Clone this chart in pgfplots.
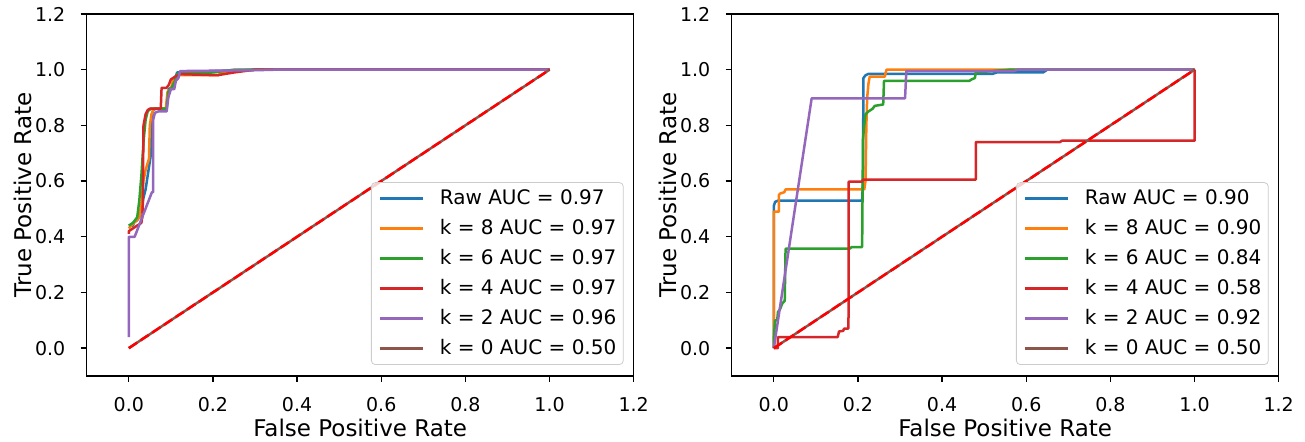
\documentclass[border=0pt]{standalone}
\usepackage{fontspec}
\setmainfont{DejaVu Sans}
\usepackage{pgfplots}
\pgfplotsset{compat=1.18}

\definecolor{c0}{HTML}{1F77B4}
\definecolor{c1}{HTML}{FF7F0E}
\definecolor{c2}{HTML}{2CA02C}
\definecolor{c3}{HTML}{D62728}
\definecolor{c4}{HTML}{9467BD}
\definecolor{c5}{HTML}{8C564B}

\pgfplotsset{
  rocax/.style={
    scale only axis, width=273.5pt, height=181pt,
    xmin=-0.1, xmax=1.2, ymin=-0.1, ymax=1.2,
    xtick={0,0.2,0.4,0.6,0.8,1.0,1.2},
    ytick={0,0.2,0.4,0.6,0.8,1.0,1.2},
    xticklabels={0.0,0.2,0.4,0.6,0.8,1.0,1.2},
    yticklabels={0.0,0.2,0.4,0.6,0.8,1.0,1.2},
    tick align=outside, xtick pos=left, ytick pos=left,
    major tick length=3pt,
    every tick/.style={black, line width=0.7pt},
    axis line style={line width=0.7pt},
    tick label style={font=\fontsize{9.5}{11}\selectfont},
    xticklabel style={anchor=base, inner sep=0pt, yshift=-15pt},
    yticklabel style={anchor=east, inner sep=0pt, xshift=-7.5pt},
    xlabel={False Positive Rate}, ylabel={True Positive Rate},
    label style={font=\fontsize{11.5}{13}\selectfont, inner sep=0pt},
    xlabel style={at={(axis description cs:0.5,-0.1685)}, anchor=base},
    ylabel style={at={(axis description cs:-0.1007,0.5)}, anchor=base},
    legend cell align=left,
    legend image code/.code={\draw[#1] (0pt,0pt) -- (21.5pt,0pt);},
    legend style={at={(1,0)}, anchor=south east, xshift=-5pt, yshift=5.5pt,
      draw=black!20, fill=white, fill opacity=0.8, text opacity=1,
      rounded corners=2pt, inner xsep=3.5pt, inner ysep=3.25pt,
      row sep=5.5pt, font=\fontsize{10}{12}\selectfont,
      nodes={inner sep=0pt, text height=7.5pt, text depth=2pt, anchor=west},
      /tikz/every odd column/.append style={column sep=8pt}},
    every axis plot/.append style={line width=1.25pt, line join=round, no marks},
  },
  diag/.style={red, dash pattern=on 5pt off 2pt, line width=1.25pt},
}

\begin{document}
\begin{tikzpicture}
\path[use as bounding box] (0,0) rectangle (652.5pt,221pt);

% left panel
\begin{axis}[rocax, at={(43.35pt,33pt)}, anchor=south west]
\addplot[c0] coordinates {(0,0.44) (0.01,0.44) (0.012,0.45) (0.02,0.46) (0.025,0.47) (0.03,0.50) (0.035,0.54) (0.04,0.57) (0.045,0.62) (0.05,0.67) (0.053,0.70) (0.055,0.84) (0.058,0.855) (0.065,0.86) (0.088,0.86) (0.09,0.87) (0.095,0.93) (0.105,0.94) (0.11,0.97) (0.115,0.99) (0.2,0.995) (0.3,1.0) (1,1)};
\addlegendentry{Raw AUC = 0.97}
\addplot[c1] coordinates {(0,0.43) (0.012,0.45) (0.02,0.46) (0.025,0.47) (0.03,0.52) (0.035,0.60) (0.04,0.64) (0.048,0.68) (0.05,0.80) (0.054,0.84) (0.06,0.86) (0.088,0.86) (0.092,0.92) (0.1,0.93) (0.105,0.96) (0.115,0.98) (0.213,0.98) (0.22,0.99) (0.3,1) (1,1)};
\addlegendentry{k = 8 AUC = 0.97}
\addplot[c2] coordinates {(0,0.44) (0.01,0.45) (0.02,0.47) (0.025,0.53) (0.03,0.62) (0.035,0.74) (0.04,0.82) (0.045,0.85) (0.052,0.86) (0.09,0.86) (0.094,0.92) (0.1,0.93) (0.11,0.96) (0.115,0.985) (0.2,0.99) (0.25,1) (1,1)};
\addlegendentry{k = 6 AUC = 0.97}
\addplot[c3] coordinates {(0,0.41) (0,0.42) (0.01,0.43) (0.02,0.44) (0.03,0.45) (0.033,0.48) (0.035,0.80) (0.04,0.84) (0.045,0.855) (0.05,0.86) (0.076,0.86) (0.078,0.935) (0.09,0.935) (0.095,0.945) (0.1,0.965) (0.11,0.975) (0.122,0.984) (0.21,0.98) (0.25,0.99) (0.3,1) (1,1)};
\addlegendentry{k = 4 AUC = 0.97}
\addplot[c4] coordinates {(0,0.04) (0,0.40) (0.014,0.40) (0.055,0.56) (0.058,0.56) (0.058,0.82) (0.062,0.845) (0.07,0.85) (0.09,0.85) (0.094,0.90) (0.1,0.93) (0.108,0.93) (0.112,0.96) (0.118,0.97) (0.122,0.995) (0.3,0.998) (0.35,1) (1,1)};
\addlegendentry{k = 2 AUC = 0.96}
\addplot[c5] coordinates {(0,0) (1,1)};
\addlegendentry{k = 0 AUC = 0.50}
\addplot[diag, forget plot] coordinates {(0,0) (1,1)};
\end{axis}

% right panel
\begin{axis}[rocax, at={(365.85pt,33pt)}, anchor=south west]
\addplot[c0] coordinates {(0,0) (0,0.51) (0.003,0.525) (0.01,0.53) (0.21,0.53) (0.212,0.60) (0.213,0.97) (0.218,0.98) (0.225,0.985) (0.52,0.985) (0.53,0.99) (0.64,0.99) (0.65,1) (1,1)};
\addlegendentry{Raw AUC = 0.90}
\addplot[c1] coordinates {(0,0) (0,0.49) (0.012,0.49) (0.012,0.55) (0.015,0.555) (0.025,0.56) (0.028,0.57) (0.215,0.57) (0.218,0.60) (0.22,0.80) (0.222,0.90) (0.225,0.95) (0.228,0.975) (0.264,0.975) (0.266,0.99) (0.268,1) (1,1)};
\addlegendentry{k = 8 AUC = 0.90}
\addplot[c2] coordinates {(0,0) (0,0.03) (0.003,0.10) (0.008,0.10) (0.01,0.13) (0.015,0.14) (0.02,0.16) (0.026,0.17) (0.028,0.357) (0.18,0.357) (0.185,0.363) (0.21,0.363) (0.212,0.75) (0.215,0.80) (0.218,0.84) (0.225,0.85) (0.235,0.86) (0.24,0.87) (0.26,0.875) (0.262,0.96) (0.465,0.96) (0.47,0.965) (0.478,0.97) (0.48,0.99) (0.52,0.995) (0.56,1) (1,1)};
\addlegendentry{k = 6 AUC = 0.84}
\addplot[c3] coordinates {(0,0) (0.01,0) (0.01,0.04) (0.152,0.04) (0.155,0.06) (0.165,0.062) (0.167,0.07) (0.177,0.07) (0.178,0.14) (0.178,0.598) (0.21,0.598) (0.212,0.605) (0.48,0.605) (0.48,0.74) (0.68,0.74) (0.685,0.745) (1,0.745) (1,1)};
\addlegendentry{k = 4 AUC = 0.58}
\addplot[c4] coordinates {(0,0) (0.09,0.897) (0.312,0.897) (0.315,0.995) (0.57,0.995) (0.58,1) (1,1)};
\addlegendentry{k = 2 AUC = 0.92}
\addplot[c5] coordinates {(0,0) (1,1)};
\addlegendentry{k = 0 AUC = 0.50}
\addplot[diag, forget plot] coordinates {(0,0) (1,1)};
\end{axis}
\end{tikzpicture}
\end{document}
